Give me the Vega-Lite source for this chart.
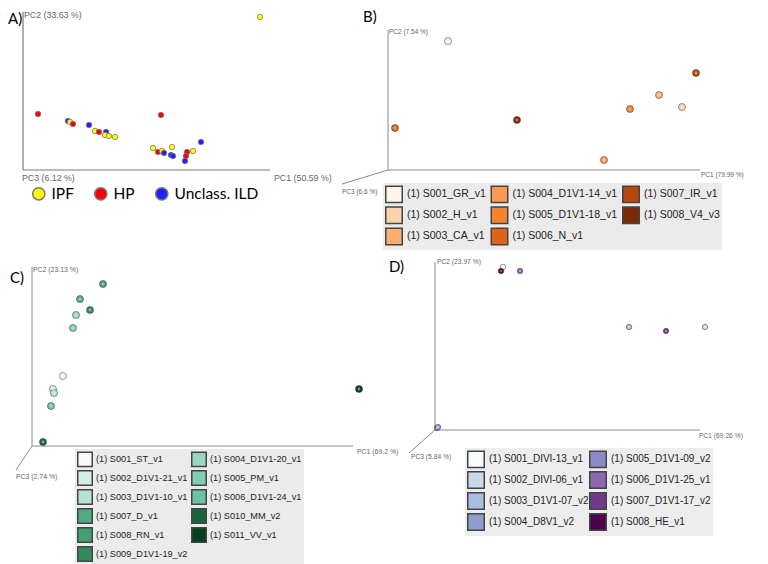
{
  "$schema": "https://vega.github.io/schema/vega-lite/v6.json",
  "padding": 0,
  "background": "white",
  "bounds": "flush",
  "align": "each",
  "columns": 2,
  "spacing": 0,
  "config": {"view": {"stroke": null}, "concat": {"spacing": 0}},
  "resolve": {"scale": {"color": "independent", "x": "independent", "y": "independent"}},
  "datasets": {
    "a": [
      {"pc1": 237, "pc2": 153, "group": "IPF"},
      {"pc1": 15, "pc2": 56, "group": "HP"},
      {"pc1": 45, "pc2": 49, "group": "Unclass. ILD"},
      {"pc1": 47, "pc2": 48, "group": "IPF"},
      {"pc1": 50, "pc2": 46, "group": "HP"},
      {"pc1": 66, "pc2": 45, "group": "Unclass. ILD"},
      {"pc1": 72, "pc2": 39, "group": "IPF"},
      {"pc1": 76, "pc2": 38, "group": "HP"},
      {"pc1": 83, "pc2": 38, "group": "Unclass. ILD"},
      {"pc1": 82, "pc2": 35, "group": "IPF"},
      {"pc1": 86, "pc2": 34, "group": "IPF"},
      {"pc1": 92, "pc2": 33, "group": "IPF"},
      {"pc1": 138, "pc2": 55, "group": "HP"},
      {"pc1": 130, "pc2": 22, "group": "IPF"},
      {"pc1": 135, "pc2": 18, "group": "HP"},
      {"pc1": 139, "pc2": 19, "group": "IPF"},
      {"pc1": 141, "pc2": 17, "group": "Unclass. ILD"},
      {"pc1": 149, "pc2": 23, "group": "IPF"},
      {"pc1": 148, "pc2": 15, "group": "Unclass. ILD"},
      {"pc1": 150, "pc2": 14, "group": "Unclass. ILD"},
      {"pc1": 164, "pc2": 18, "group": "HP"},
      {"pc1": 163, "pc2": 14, "group": "HP"},
      {"pc1": 162, "pc2": 9, "group": "Unclass. ILD"},
      {"pc1": 170, "pc2": 19, "group": "IPF"},
      {"pc1": 178, "pc2": 28, "group": "Unclass. ILD"}
    ],
    "b": [
      {"pc1": 60, "pc2": 129, "sample": "(1) S001_GR_v1"},
      {"pc1": 7, "pc2": 42, "sample": "(1) S006_N_v1"},
      {"pc1": 129, "pc2": 50, "sample": "(1) S008_V4_v3"},
      {"pc1": 242, "pc2": 61, "sample": "(1) S005_D1V1-18_v1"},
      {"pc1": 271, "pc2": 75, "sample": "(1) S003_CA_v1"},
      {"pc1": 308, "pc2": 97, "sample": "(1) S007_IR_v1"},
      {"pc1": 294, "pc2": 63, "sample": "(1) S002_H_v1"},
      {"pc1": 216, "pc2": 10, "sample": "(1) S004_D1V1-14_v1"}
    ],
    "c": [
      {"pc1": 71, "pc2": 162, "sample": "(1) S008_RN_v1"},
      {"pc1": 48, "pc2": 147, "sample": "(1) S007_D_v1"},
      {"pc1": 58, "pc2": 136, "sample": "(1) S009_D1V1-19_v2"},
      {"pc1": 44, "pc2": 131, "sample": "(1) S004_D1V1-20_v1"},
      {"pc1": 41, "pc2": 118, "sample": "(1) S005_PM_v1"},
      {"pc1": 31, "pc2": 70, "sample": "(1) S001_ST_v1"},
      {"pc1": 21, "pc2": 57, "sample": "(1) S002_D1V1-21_v1"},
      {"pc1": 22, "pc2": 53, "sample": "(1) S003_D1V1-10_v1"},
      {"pc1": 19, "pc2": 40, "sample": "(1) S006_D1V1-24_v1"},
      {"pc1": 11, "pc2": 4, "sample": "(1) S010_MM_v2"},
      {"pc1": 327, "pc2": 57, "sample": "(1) S011_VV_v1"}
    ],
    "d": [
      {"pc1": 68, "pc2": 163, "sample": "(1) S001_DIVI-13_v1"},
      {"pc1": 66, "pc2": 159, "sample": "(1) S008_HE_v1"},
      {"pc1": 85, "pc2": 159, "sample": "(1) S006_D1V1-25_v1"},
      {"pc1": 194, "pc2": 103, "sample": "(1) S003_D1V1-07_v2"},
      {"pc1": 231, "pc2": 99, "sample": "(1) S007_D1V1-17_v2"},
      {"pc1": 270, "pc2": 103, "sample": "(1) S002_DIVI-06_v1"},
      {"pc1": 2, "pc2": 2, "sample": "(1) S005_D1V1-09_v2"},
      {"pc1": 3, "pc2": 3, "sample": "(1) S004_D8V1_v2"}
    ],
    "one": [{}]
  },
  "concat": [
    {
      "width": 380, "height": 255,
      "layer": [
        {"data": {"name": "one"}, "mark": {"type": "rule", "color": "#7a7a7a", "strokeWidth": 1.2},
         "encoding": {"x": {"datum": 0, "type": "quantitative", "axis": null}, "y": {"datum": 0, "type": "quantitative", "axis": null}, "y2": {"datum": 158}}},
        {"data": {"name": "one"}, "mark": {"type": "rule", "color": "#7a7a7a", "strokeWidth": 1.2},
         "encoding": {"x": {"datum": 0, "type": "quantitative", "axis": null}, "x2": {"datum": 247}, "y": {"datum": 0, "type": "quantitative", "axis": null}}},
        {"data": {"name": "one"}, "mark": {"type": "text", "align": "left", "baseline": "middle", "font": "Lato", "fontSize": 15, "color": "#000"},
         "encoding": {"x": {"datum": -15, "type": "quantitative", "axis": null}, "y": {"datum": 151, "type": "quantitative", "axis": null}, "text": {"value": "A)"}}},
        {"data": {"name": "one"}, "mark": {"type": "text", "align": "left", "baseline": "middle", "font": "Liberation Sans", "fontSize": 8.8, "color": "#666"},
         "encoding": {"x": {"datum": 1, "type": "quantitative", "axis": null}, "y": {"datum": 155, "type": "quantitative", "axis": null}, "text": {"value": "PC2 (33.63 %)"}}},
        {"data": {"name": "one"}, "mark": {"type": "text", "align": "left", "baseline": "middle", "font": "Liberation Sans", "fontSize": 8.8, "color": "#666"},
         "encoding": {"x": {"datum": -1, "type": "quantitative", "axis": null}, "y": {"datum": -8, "type": "quantitative", "axis": null}, "text": {"value": "PC3 (6.12 %)"}}},
        {"data": {"name": "one"}, "mark": {"type": "text", "align": "left", "baseline": "middle", "font": "Liberation Sans", "fontSize": 8.8, "color": "#666"},
         "encoding": {"x": {"datum": 251, "type": "quantitative", "axis": null}, "y": {"datum": -8, "type": "quantitative", "axis": null}, "text": {"value": "PC1 (50.59 %)"}}},
        {"data": {"name": "a"}, "mark": {"type": "point", "filled": true, "size": 30, "opacity": 1, "stroke": "#777", "strokeWidth": 0.8},
         "encoding": {
           "x": {"field": "pc1", "type": "quantitative", "scale": {"domain": [-23, 357], "nice": false, "zero": false}, "axis": null},
           "y": {"field": "pc2", "type": "quantitative", "scale": {"domain": [-85, 170], "nice": false, "zero": false}, "axis": null},
           "color": {"field": "group", "type": "nominal",
             "scale": {"domain": ["IPF", "HP", "Unclass. ILD"], "range": ["#ffff00", "#ff0000", "#1f1fff"]},
             "legend": {"title": null, "orient": "none", "legendX": 31, "legendY": 186, "direction": "horizontal",
               "symbolType": "circle", "symbolSize": 150, "labelFont": "Lato", "labelFontSize": 15.5, "labelColor": "#000",
               "labelOffset": 5, "columnPadding": 17, "symbolOpacity": 1,
               "encode": {"symbols": {"update": {"strokeWidth": {"value": 0}, "opacity": {"value": 1}}}}}}
         }}
      ]
    },
    {
      "width": 388, "height": 255,
      "layer": [
        {"data": {"name": "one"}, "mark": {"type": "rule", "color": "#8a8a8a", "strokeWidth": 1},
         "encoding": {"x": {"datum": 0, "type": "quantitative", "axis": null}, "y": {"datum": 0, "type": "quantitative", "axis": null}, "y2": {"datum": 140}}},
        {"data": {"name": "one"}, "mark": {"type": "rule", "color": "#8a8a8a", "strokeWidth": 1},
         "encoding": {"x": {"datum": 0, "type": "quantitative", "axis": null}, "x2": {"datum": 312}, "y": {"datum": 0, "type": "quantitative", "axis": null}}},
        {"data": {"name": "one"}, "mark": {"type": "rule", "color": "#8a8a8a", "strokeWidth": 1},
         "encoding": {"x": {"datum": 0, "type": "quantitative", "axis": null}, "x2": {"datum": -46}, "y": {"datum": 0, "type": "quantitative", "axis": null}, "y2": {"datum": -14}}},
        {"data": {"name": "one"}, "mark": {"type": "text", "align": "left", "baseline": "middle", "font": "Lato", "fontSize": 15, "color": "#000"},
         "encoding": {"x": {"datum": -25, "type": "quantitative", "axis": null}, "y": {"datum": 153, "type": "quantitative", "axis": null}, "text": {"value": "B)"}}},
        {"data": {"name": "one"}, "mark": {"type": "text", "align": "left", "baseline": "middle", "font": "Liberation Sans", "fontSize": 6.5, "color": "#666"},
         "encoding": {"x": {"datum": 1, "type": "quantitative", "axis": null}, "y": {"datum": 138, "type": "quantitative", "axis": null}, "text": {"value": "PC2 (7.54 %)"}}},
        {"data": {"name": "one"}, "mark": {"type": "text", "align": "left", "baseline": "middle", "font": "Liberation Sans", "fontSize": 6.5, "color": "#666"},
         "encoding": {"x": {"datum": 313, "type": "quantitative", "axis": null}, "y": {"datum": -5, "type": "quantitative", "axis": null}, "text": {"value": "PC1 (79.99 %)"}}},
        {"data": {"name": "one"}, "mark": {"type": "text", "align": "left", "baseline": "middle", "font": "Liberation Sans", "fontSize": 6.5, "color": "#666"},
         "encoding": {"x": {"datum": -46, "type": "quantitative", "axis": null}, "y": {"datum": -22, "type": "quantitative", "axis": null}, "text": {"value": "PC3 (6.6 %)"}}},
        {"data": {"name": "b"}, "mark": {"type": "point", "filled": true, "size": 50, "opacity": 1, "stroke": "#444", "strokeOpacity": 0.55, "strokeWidth": 1},
         "encoding": {
           "x": {"field": "pc1", "type": "quantitative", "scale": {"domain": [-8, 380], "nice": false, "zero": false}, "axis": null},
           "y": {"field": "pc2", "type": "quantitative", "scale": {"domain": [-85, 170], "nice": false, "zero": false}, "axis": null},
           "color": {"field": "sample", "type": "nominal",
             "scale": {"domain": ["(1) S001_GR_v1", "(1) S002_H_v1", "(1) S003_CA_v1", "(1) S004_D1V1-14_v1", "(1) S005_D1V1-18_v1", "(1) S006_N_v1", "(1) S007_IR_v1", "(1) S008_V4_v3"],
                       "range": ["#fef4ea", "#fdd3ad", "#fcae70", "#fc9a52", "#f6822c", "#df6317", "#b5480b", "#7b2a05"]},
             "legend": {"title": null, "orient": "none", "legendX": 3, "legendY": 183, "columns": 3,
               "symbolType": "square", "symbolSize": 272, "labelFont": "Liberation Sans", "labelFontSize": 10.5, "labelColor": "#222",
               "labelOffset": 4, "columnPadding": 1.5, "rowPadding": -2.8, "padding": 2, "fillColor": "#ebebeb", "labelLimit": 300, "symbolOpacity": 1,
               "encode": {"symbols": {"update": {"stroke": {"value": "#555"}, "strokeWidth": {"value": 1}, "opacity": {"value": 1}}}}}}
         }},
        {"data": {"name": "b"}, "mark": {"type": "point", "filled": true, "size": 8, "opacity": 0.45, "color": "white"},
         "encoding": {"x": {"field": "pc1", "type": "quantitative", "axis": null}, "y": {"field": "pc2", "type": "quantitative", "axis": null}}}
      ]
    },
    {
      "width": 380, "height": 309,
      "layer": [
        {"data": {"name": "one"}, "mark": {"type": "rule", "color": "#8a8a8a", "strokeWidth": 1},
         "encoding": {"x": {"datum": 0, "type": "quantitative", "axis": null}, "y": {"datum": 0, "type": "quantitative", "axis": null}, "y2": {"datum": 179}}},
        {"data": {"name": "one"}, "mark": {"type": "rule", "color": "#8a8a8a", "strokeWidth": 1},
         "encoding": {"x": {"datum": 0, "type": "quantitative", "axis": null}, "x2": {"datum": 321}, "y": {"datum": 0, "type": "quantitative", "axis": null}}},
        {"data": {"name": "one"}, "mark": {"type": "rule", "color": "#8a8a8a", "strokeWidth": 1},
         "encoding": {"x": {"datum": 0, "type": "quantitative", "axis": null}, "x2": {"datum": -16}, "y": {"datum": 0, "type": "quantitative", "axis": null}, "y2": {"datum": -24}}},
        {"data": {"name": "one"}, "mark": {"type": "text", "align": "left", "baseline": "middle", "font": "Lato", "fontSize": 15, "color": "#000"},
         "encoding": {"x": {"datum": -22, "type": "quantitative", "axis": null}, "y": {"datum": 168, "type": "quantitative", "axis": null}, "text": {"value": "C)"}}},
        {"data": {"name": "one"}, "mark": {"type": "text", "align": "left", "baseline": "middle", "font": "Liberation Sans", "fontSize": 6.9, "color": "#666"},
         "encoding": {"x": {"datum": 1, "type": "quantitative", "axis": null}, "y": {"datum": 176, "type": "quantitative", "axis": null}, "text": {"value": "PC2 (23.13 %)"}}},
        {"data": {"name": "one"}, "mark": {"type": "text", "align": "left", "baseline": "middle", "font": "Liberation Sans", "fontSize": 6.9, "color": "#666"},
         "encoding": {"x": {"datum": 325, "type": "quantitative", "axis": null}, "y": {"datum": -6, "type": "quantitative", "axis": null}, "text": {"value": "PC1 (69.2 %)"}}},
        {"data": {"name": "one"}, "mark": {"type": "text", "align": "left", "baseline": "middle", "font": "Liberation Sans", "fontSize": 6.9, "color": "#666"},
         "encoding": {"x": {"datum": -16, "type": "quantitative", "axis": null}, "y": {"datum": -31, "type": "quantitative", "axis": null}, "text": {"value": "PC3 (2.74 %)"}}},
        {"data": {"name": "c"}, "mark": {"type": "point", "filled": true, "size": 50, "opacity": 1, "stroke": "#444", "strokeOpacity": 0.55, "strokeWidth": 1},
         "encoding": {
           "x": {"field": "pc1", "type": "quantitative", "scale": {"domain": [-32, 348], "nice": false, "zero": false}, "axis": null},
           "y": {"field": "pc2", "type": "quantitative", "scale": {"domain": [-118, 191], "nice": false, "zero": false}, "axis": null},
           "color": {"field": "sample", "type": "nominal",
             "scale": {"domain": ["(1) S001_ST_v1", "(1) S002_D1V1-21_v1", "(1) S003_D1V1-10_v1", "(1) S007_D_v1", "(1) S008_RN_v1", "(1) S009_D1V1-19_v2", "(1) S004_D1V1-20_v1", "(1) S005_PM_v1", "(1) S006_D1V1-24_v1", "(1) S010_MM_v2", "(1) S011_VV_v1"],
                       "range": ["#f4fbf9", "#d3eee5", "#b6e2d3", "#52ab85", "#45a070", "#348a5b", "#98d6c3", "#80cbb3", "#68c2a5", "#19643a", "#05401c"]},
             "legend": {"title": null, "orient": "none", "legendX": 75, "legendY": 194, "columns": 2,
               "symbolType": "square", "symbolSize": 210, "labelFont": "Liberation Sans", "labelFontSize": 9.2, "labelColor": "#222",
               "labelOffset": 3, "columnPadding": 0, "rowPadding": -5.5, "padding": 2, "fillColor": "#ebebeb", "labelLimit": 300, "symbolOpacity": 1,
               "encode": {"symbols": {"update": {"stroke": {"value": "#555"}, "strokeWidth": {"value": 1}, "opacity": {"value": 1}}}}}}
         }},
        {"data": {"name": "c"}, "mark": {"type": "point", "filled": true, "size": 8, "opacity": 0.45, "color": "white"},
         "encoding": {"x": {"field": "pc1", "type": "quantitative", "axis": null}, "y": {"field": "pc2", "type": "quantitative", "axis": null}}}
      ]
    },
    {
      "width": 388, "height": 309,
      "layer": [
        {"data": {"name": "one"}, "mark": {"type": "rule", "color": "#8a8a8a", "strokeWidth": 1},
         "encoding": {"x": {"datum": 0, "type": "quantitative", "axis": null}, "y": {"datum": 0, "type": "quantitative", "axis": null}, "y2": {"datum": 168}}},
        {"data": {"name": "one"}, "mark": {"type": "rule", "color": "#8a8a8a", "strokeWidth": 1},
         "encoding": {"x": {"datum": 0, "type": "quantitative", "axis": null}, "x2": {"datum": 265}, "y": {"datum": 0, "type": "quantitative", "axis": null}}},
        {"data": {"name": "one"}, "mark": {"type": "rule", "color": "#8a8a8a", "strokeWidth": 1},
         "encoding": {"x": {"datum": 0, "type": "quantitative", "axis": null}, "x2": {"datum": -26}, "y": {"datum": 0, "type": "quantitative", "axis": null}, "y2": {"datum": -23}}},
        {"data": {"name": "one"}, "mark": {"type": "text", "align": "left", "baseline": "middle", "font": "Lato", "fontSize": 15, "color": "#000"},
         "encoding": {"x": {"datum": -46, "type": "quantitative", "axis": null}, "y": {"datum": 163, "type": "quantitative", "axis": null}, "text": {"value": "D)"}}},
        {"data": {"name": "one"}, "mark": {"type": "text", "align": "left", "baseline": "middle", "font": "Liberation Sans", "fontSize": 6.7, "color": "#666"},
         "encoding": {"x": {"datum": 2, "type": "quantitative", "axis": null}, "y": {"datum": 168, "type": "quantitative", "axis": null}, "text": {"value": "PC2 (23.97 %)"}}},
        {"data": {"name": "one"}, "mark": {"type": "text", "align": "left", "baseline": "middle", "font": "Liberation Sans", "fontSize": 6.7, "color": "#666"},
         "encoding": {"x": {"datum": 264, "type": "quantitative", "axis": null}, "y": {"datum": -6, "type": "quantitative", "axis": null}, "text": {"value": "PC1 (69.26 %)"}}},
        {"data": {"name": "one"}, "mark": {"type": "text", "align": "left", "baseline": "middle", "font": "Liberation Sans", "fontSize": 6.7, "color": "#666"},
         "encoding": {"x": {"datum": -24, "type": "quantitative", "axis": null}, "y": {"datum": -27, "type": "quantitative", "axis": null}, "text": {"value": "PC3 (5.84 %)"}}},
        {"data": {"name": "d"}, "mark": {"type": "point", "filled": true, "size": 30, "opacity": 1, "stroke": "#444", "strokeOpacity": 0.55, "strokeWidth": 1},
         "encoding": {
           "x": {"field": "pc1", "type": "quantitative", "scale": {"domain": [-55, 333], "nice": false, "zero": false}, "axis": null},
           "y": {"field": "pc2", "type": "quantitative", "scale": {"domain": [-134, 175], "nice": false, "zero": false}, "axis": null},
           "color": {"field": "sample", "type": "nominal",
             "scale": {"domain": ["(1) S001_DIVI-13_v1", "(1) S002_DIVI-06_v1", "(1) S003_D1V1-07_v2", "(1) S004_D8V1_v2", "(1) S005_D1V1-09_v2", "(1) S006_D1V1-25_v1", "(1) S007_D1V1-17_v2", "(1) S008_HE_v1"],
                       "range": ["#f6fbfc", "#c8d9eb", "#a9bddf", "#8f9dcd", "#8c8ac6", "#8b69b2", "#6f3a88", "#4d004b"]},
             "legend": {"title": null, "orient": "none", "legendX": 85, "legendY": 193, "columns": 2,
               "symbolType": "square", "symbolSize": 272, "labelFont": "Liberation Sans", "labelFontSize": 10, "labelColor": "#222",
               "labelOffset": 4, "columnPadding": -12, "rowPadding": -5.5, "padding": 2, "fillColor": "#ededed", "labelLimit": 300, "symbolOpacity": 1,
               "encode": {"symbols": {"update": {"stroke": {"value": "#555"}, "strokeWidth": {"value": 1}, "opacity": {"value": 1}}}}}}
         }},
        {"data": {"name": "d"}, "mark": {"type": "point", "filled": true, "size": 5, "opacity": 0.45, "color": "white"},
         "encoding": {"x": {"field": "pc1", "type": "quantitative", "axis": null}, "y": {"field": "pc2", "type": "quantitative", "axis": null}}}
      ]
    }
  ]
}
